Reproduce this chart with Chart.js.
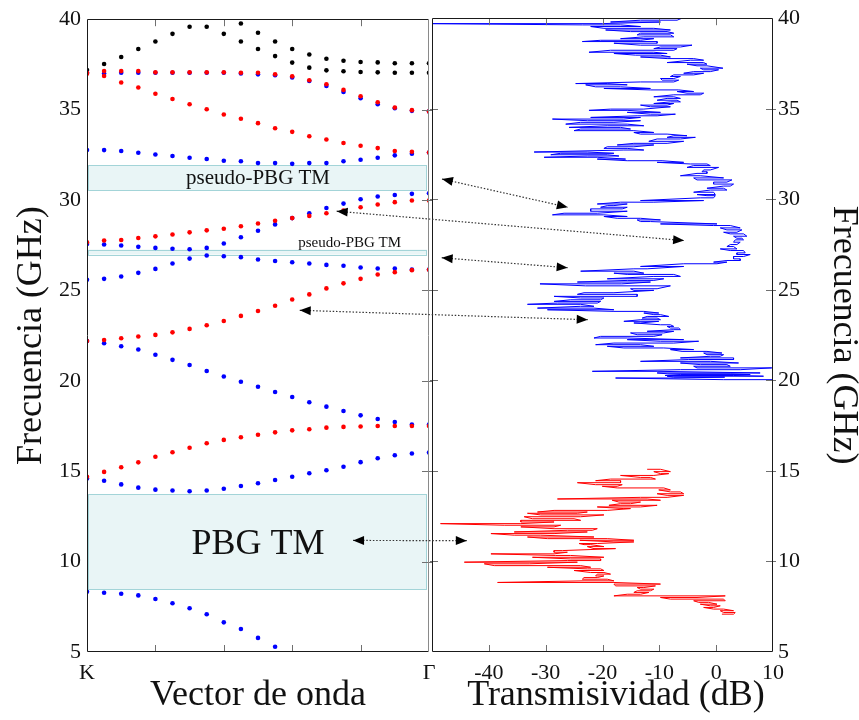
<!DOCTYPE html>
<html>
<head>
<meta charset="utf-8">
<script src="https://cdn.jsdelivr.net/npm/chart.js@4.4.0/dist/chart.umd.min.js"></script>
<style>
  html, body { margin: 0; padding: 0; background: #fff; }
  #wrap { position: relative; width: 859px; height: 720px; }
  #wrap canvas { position: absolute; left: 0; top: 0; }
</style>
</head>
<body>
<div id="wrap">
  <canvas id="bands" width="859" height="720"></canvas>
  <canvas id="trans" width="859" height="720"></canvas>
</div>
<script>
// k points from K (0) to Gamma (20)
const kIndex = [0,1,2,3,4,5,6,7,8,9,10,11,12,13,14,15,16,17,18,19,20];

// band diagram, frequency in GHz for each k point
const blueBands = [
  [37.04,36.99,37.04,37.04,37.04,37.04,37.04,37.04,37.04,37.0,36.95,36.9,36.78,36.58,36.31,35.98,35.63,35.3,35.08,34.93,34.9],
  [32.76,32.76,32.71,32.61,32.52,32.43,32.34,32.27,32.17,32.14,32.04,32.04,32.0,32.04,32.04,32.14,32.23,32.34,32.47,32.56,32.63],
  [27.56,27.54,27.48,27.41,27.35,27.3,27.28,27.35,27.59,27.94,28.3,28.65,29.0,29.27,29.56,29.8,30.04,30.19,30.28,30.34,30.37],
  [25.59,25.64,25.77,25.97,26.19,26.49,26.76,26.93,26.89,26.84,26.71,26.63,26.56,26.49,26.41,26.36,26.27,26.21,26.21,26.16,26.16],
  [22.2,22.08,21.91,21.73,21.44,21.16,20.87,20.54,20.24,19.95,19.67,19.38,19.1,18.81,18.57,18.33,18.09,17.89,17.72,17.58,17.58],
  [14.6,14.47,14.27,14.09,13.98,13.93,13.89,13.93,14.03,14.18,14.33,14.51,14.69,14.89,15.05,15.25,15.5,15.72,15.88,15.98,16.03],
  [8.33,8.28,8.22,8.13,7.93,7.7,7.42,7.09,6.64,6.27,5.78,5.29,null,null,null,null,null,null,null,null,null]
];
const redBands = [
  [37.04,37.13,37.13,37.13,37.06,37.06,37.06,37.06,37.06,37.04,37.04,36.95,36.84,36.62,36.4,36.09,35.74,35.41,35.11,34.97,34.9],
  [36.98,36.86,36.5,36.22,35.88,35.59,35.3,35.02,34.73,34.49,34.25,33.97,33.77,33.53,33.35,33.15,33.0,32.87,32.71,32.67,32.63],
  [27.66,27.76,27.79,27.9,27.99,28.09,28.21,28.32,28.41,28.55,28.7,28.85,29.0,29.12,29.27,29.42,29.6,29.75,29.88,29.97,29.97],
  [22.2,22.26,22.35,22.45,22.54,22.68,22.87,23.07,23.31,23.59,23.86,24.15,24.5,24.78,25.11,25.39,25.64,25.88,26.01,26.12,26.14],
  [14.69,14.96,15.22,15.49,15.8,16.05,16.3,16.55,16.73,16.88,17.02,17.15,17.26,17.32,17.41,17.45,17.47,17.5,17.5,17.5,17.5]
];
const blackBands = [
  [37.19,37.52,37.91,38.35,38.77,39.19,39.58,39.58,39.19,38.77,38.35,37.96,37.6,37.32,37.17,37.12,37.08,37.06,37.04,37.04,37.04],
  [null,null,null,null,null,null,null,null,null,39.76,39.25,38.77,38.35,38.05,37.81,37.7,37.63,37.61,37.56,37.56,37.56]
];

// measured transmission (20-40 GHz, blue): each row is a frequency with its low/high swing in dB
const blueFreq = [
  40.00,39.89,39.79,39.70,39.63,39.54,39.44,39.35,39.26,39.17,
  39.08,38.97,38.87,38.78,38.71,38.62,38.51,38.41,38.32,38.23,
  38.12,38.05,37.96,37.86,37.77,37.68,37.55,37.46,37.37,37.24,
  37.15,37.05,36.96,36.87,36.78,36.67,36.58,36.48,36.39,36.32,
  36.21,36.12,36.04,35.95,35.86,35.77,35.66,35.57,35.47,35.38,
  35.29,35.20,35.11,34.98,34.91,34.80,34.70,34.61,34.52,34.43,
  34.34,34.25,34.15,34.06,33.97,33.88,33.79,33.69,33.60,33.51,
  33.42,33.33,33.20,33.09,33.00,32.90,32.81,32.72,32.61,32.54,
  32.46,32.39,32.32,32.22,32.13,32.04,31.95,31.86,31.76,31.62,
  31.52,31.43,31.30,31.18,31.07,30.95,30.84,30.73,30.61,30.51,
  30.39,30.26,30.20,30.08,29.93,29.84,29.74,29.65,29.56,29.47,
  29.34,29.23,29.14,29.05,28.95,28.86,28.77,28.64,28.55,28.42,
  28.31,28.18,28.09,27.96,27.85,27.76,27.63,27.50,27.39,27.26,
  27.17,27.04,26.95,26.84,26.71,26.62,26.53,26.44,26.29,26.16,
  26.03,25.92,25.85,25.74,25.61,25.52,25.43,25.33,25.22,25.06,
  24.97,24.84,24.75,24.64,24.55,24.45,24.36,24.27,24.20,24.09,
  23.99,23.90,23.81,23.72,23.63,23.53,23.44,23.35,23.26,23.17,
  23.07,22.98,22.89,22.80,22.71,22.62,22.52,22.43,22.34,22.25,
  22.16,22.06,21.97,21.88,21.79,21.70,21.60,21.51,21.42,21.33,
  21.24,21.15,21.05,20.96,20.87,20.78,20.69,20.59,20.50,20.41,
  20.36,20.32,20.27,20.23,20.18,20.13,20.04
];
const blueLow = [
  -9.5,-13.31,-18.58,-50,-23.55,-22.08,-19.75,-19.45,-15.07,-13.31,
  -13.9,-12.73,-16.82,-20.33,-23.55,-17.99,-13.31,-9.8,-10.97,-18.58,
  -22.38,-17.99,-14.19,-13.31,-8.63,-4.54,-8.63,-5.13,-3.37,-2.79,
  -2.2,-3.96,-5.71,-7.46,-8.05,-9.8,-9.51,-13.31,-24.72,-22.96,
  -21.21,-19.75,-11.56,-6.88,-5.13,-7.46,-10.97,-8.63,-10.39,-8.05,
  -10.97,-13.31,-11.56,-18.58,-22.38,-15.65,-11.56,-13.9,-22.08,-28.81,
  -22.67,-23.84,-26.47,-19.16,-25.89,-23.84,-25.01,-14.48,-13.31,-7.46,
  -8.63,-10.39,-11.85,-14.48,-17.41,-19.16,-19.75,-16.24,-32.03,-27.35,
  -29.1,-22.67,-30.27,-20.92,-15.65,-10.39,-4.54,-3.96,-5.13,-2.2,
  -2.49,-3.37,-6.29,-3.96,-3.37,-0.45,-0.45,1.31,-1.62,-1.03,
  -3.96,-3.37,-1.62,-2.79,-13.31,-16.82,-20.92,-19.16,-20.33,-22.08,
  -22.08,-26.76,-28.81,-19.75,-17.41,-13.9,-13.31,-9.8,-0.45,0.72,
  1.89,1.31,2.48,3.06,3.65,3.36,3.06,2.48,1.89,0.72,
  2.48,3.65,3.65,3.06,3.06,1.89,-0.45,-5.71,-13.31,-14.48,
  -23.84,-17.99,-15.65,-10.97,-19.16,-15.65,-24.42,-31.0,-23.0,-15.07,
  -14.48,-23.25,-24.42,-28.52,-23.84,-25.6,-28.52,-27.93,-33.2,-23.84,
  -31.44,-29.69,-17.99,-12.73,-10.97,-12.14,-13.02,-13.31,-16.24,-14.48,
  -9.8,-8.63,-8.05,-7.46,-12.14,-15.07,-13.9,-20.33,-21.5,-15.65,
  -9.8,-17.99,-21.21,-19.16,-16.24,-8.05,-6.0,-2.2,-1.62,-1.03,
  -6.29,-4.83,-13.31,-6.29,-2.79,-3.96,-3.37,-6.29,-21.79,-10.39,
  -8.5,-6.29,-9.0,-8.63,-7.5,-17.7,1.26
];
const blueHigh = [
  -6.0,-6.88,-9.8,-20.04,-16.82,-13.31,-10.97,-8.05,-8.63,-7.46,
  -8.05,-7.46,-10.97,-13.31,-10.39,-10.39,-4.25,-6.29,-6.88,-7.46,
  -10.97,-8.63,-9.8,-8.05,-3.96,-2.2,-2.2,-1.62,-1.62,1.19,
  0.43,-1.03,-2.2,-3.96,-6.29,-7.46,-6.59,-7.46,-19.16,-15.65,
  -16.82,-11.56,-6.59,-3.96,-2.2,-2.79,-7.46,-6.29,-6.88,-6.29,
  -7.46,-8.63,-8.05,-12.73,-15.65,-9.8,-7.17,-10.39,-13.31,-16.24,
  -13.31,-17.99,-15.65,-12.73,-16.82,-15.07,-14.48,-10.97,-8.63,-5.13,
  -3.66,-6.29,-5.71,-8.63,-10.97,-14.48,-15.65,-12.73,-22.67,-17.99,
  -19.16,-17.11,-20.92,-15.94,-9.51,-5.71,-1.62,-1.03,0.43,-1.03,
  -1.62,-1.62,-2.79,1.31,2.77,1.89,3.06,2.48,1.31,1.89,
  -0.45,-0.15,-0.15,-0.45,-2.2,-10.97,-15.65,-17.99,-15.65,-16.53,
  -15.65,-20.92,-19.75,-15.65,-13.31,-9.8,-11.56,0.14,2.48,4.23,
  4.53,3.65,4.82,5.4,4.53,4.82,4.23,3.65,3.06,3.65,
  4.82,5.11,5.99,4.82,4.23,4.23,1.89,0.14,-5.71,-12.14,
  -14.48,-12.73,-7.46,-6.29,-9.22,-10.97,-11.56,-16.6,-8.05,-10.39,
  -10.97,-17.99,-13.9,-13.9,-19.75,-20.33,-20.33,-20.92,-23.84,-21.5,
  -21.5,-17.99,-12.73,-10.1,-9.8,-8.34,-10.39,-9.8,-10.1,-13.31,
  -8.05,-7.46,-6.59,-6.29,-7.46,-9.22,-9.51,-10.97,-15.65,-5.71,
  -3.08,-7.46,-13.31,-10.97,-9.22,-3.96,-1.62,1.01,1.31,0.72,
  3.06,3.06,-1.03,3.94,1.89,2.48,9.79,4.23,-10.39,7.74,
  2.5,5.99,3.0,8.33,1.5,-7.46,10.0
];

// measured transmission (7-15 GHz, red)
const redFreq = [
  15.09,14.96,14.85,14.75,14.64,14.55,14.46,14.35,14.24,14.15,
  14.06,13.95,13.84,13.74,13.65,13.54,13.45,13.38,13.28,13.19,
  13.10,13.01,12.92,12.82,12.73,12.66,12.57,12.47,12.36,12.27,
  12.18,12.09,12.00,11.91,11.81,11.72,11.63,11.54,11.45,11.35,
  11.26,11.17,11.08,10.99,10.93,10.82,10.71,10.60,10.51,10.42,
  10.33,10.23,10.14,10.05,9.96,9.87,9.77,9.68,9.59,9.50,
  9.39,9.30,9.20,9.11,9.02,8.93,8.84,8.75,8.65,8.56,
  8.47,8.38,8.29,8.19,8.10,8.01,7.92,7.83,7.74,7.64,
  7.55,7.46,7.37,7.28,7.18,7.09
];
const redLow = [
  -12.14,-10.97,-9.8,-16.82,-13.31,-18.58,-21.21,-24.42,-21.21,-20.04,
  -17.41,-10.1,-8.05,-10.39,-8.63,-13.31,-27.93,-18.29,-17.11,-16.82,
  -18.87,-20.92,-16.24,-28.52,-31.44,-33.2,-30.86,-33.78,-32.32,-34.37,
  -34.37,-48.5,-37.29,-34.37,-28.52,-26.18,-35.53,-39.63,-35.53,-33.2,
  -29.69,-24.0,-17.99,-24.13,-23.25,-22.67,-21.5,-28.52,-28.52,-39.63,
  -28.23,-32.32,-25.6,-26.18,-44.31,-40.8,-39.04,-29.69,-22.67,-25.01,
  -22.08,-20.92,-21.21,-23.25,-23.55,-23.25,-38.46,-17.99,-17.7,-13.9,
  -13.31,-13.9,-14.48,-15.65,-17.99,-9.8,-8.05,-3.96,-3.08,-2.79,
  -1.03,-2.2,-0.45,0.72,1.31,1.01
];
const redHigh = [
  -9.8,-8.05,-8.34,-10.97,-11.56,-10.68,-16.82,-16.82,-16.53,-17.41,
  -9.22,-8.05,-6.29,-5.71,-5.71,-8.63,-12.14,-9.8,-13.31,-15.07,
  -10.39,-13.31,-15.07,-19.16,-22.67,-24.42,-19.75,-23.84,-25.01,-23.84,
  -28.52,-34.37,-27.35,-28.52,-20.92,-21.79,-22.67,-28.52,-30.86,-21.5,
  -19.16,-14.48,-14.48,-20.92,-22.08,-19.75,-17.7,-27.05,-26.18,-28.52,
  -25.6,-19.75,-20.33,-20.33,-24.42,-32.9,-23.84,-22.08,-20.33,-19.75,
  -19.75,-18.58,-19.75,-20.92,-19.16,-17.99,-17.99,-9.8,-10.68,-12.73,
  -10.97,-11.56,-11.85,-13.31,1.6,-3.37,1.31,1.6,-1.32,0.14,
  0.72,-0.45,1.31,3.06,3.36,3.06
];

// shaded gaps on the band diagram (GHz)
const gapTop = [31.92, 27.26, 13.72];
const gapBottom = [30.52, 26.98, 8.44];

const serif = "'Liberation Serif', 'Times New Roman', serif";

function bandPoints(vals) {
  const out = [];
  vals.forEach((v, i) => { if (v !== null) out.push({x: kIndex[i], y: v}); });
  return out;
}

function zigzag(freq, lo, hi) {
  const pts = [];
  freq.forEach((f, i) => {
    if (i % 2 === 0) pts.push({x: lo[i], y: f}, {x: hi[i], y: f});
    else pts.push({x: hi[i], y: f}, {x: lo[i], y: f});
  });
  return pts;
}

// box and inward tick marks
const framePlugin = {
  id: 'frame',
  afterDraw(chart, args, opts) {
    const {ctx, chartArea: a, scales} = chart;
    const xs = scales.x, ys = scales.y;
    const len = 7;
    ctx.save();
    ctx.lineWidth = 1;
    ctx.strokeStyle = '#707070';
    ctx.beginPath();
    xs.ticks.forEach(t => {
      if (t.value <= xs.min || t.value >= xs.max) return;
      const px = Math.round(xs.getPixelForValue(t.value)) + 0.5;
      ctx.moveTo(px, a.bottom); ctx.lineTo(px, a.bottom - len);
      ctx.moveTo(px, a.top); ctx.lineTo(px, a.top + len);
    });
    ys.ticks.forEach(t => {
      if (t.value <= ys.min || t.value >= ys.max) return;
      const py = Math.round(ys.getPixelForValue(t.value)) + 0.5;
      if (opts.leftTicks) { ctx.moveTo(a.left - 2, py); ctx.lineTo(a.left + len - 1, py); }
      if (opts.rightTicks) { ctx.moveTo(a.right - len, py); ctx.lineTo(a.right + 3, py); }
    });
    ctx.stroke();

    const l = Math.round(a.left) + 0.5, r = Math.round(a.right) - 0.5;
    const t = Math.round(a.top) + 0.5, b = Math.round(a.bottom) - 0.5;
    ctx.strokeStyle = '#1a1a1a';
    ctx.beginPath();
    ctx.moveTo(r, t); ctx.lineTo(l, t); ctx.lineTo(l, b); ctx.lineTo(r, b);
    ctx.stroke();
    ctx.strokeStyle = opts.rightColor || '#1a1a1a';
    ctx.beginPath(); ctx.moveTo(r, t); ctx.lineTo(r, b); ctx.stroke();
    ctx.restore();
  }
};

// shaded band gaps with their labels
const gapPlugin = {
  id: 'gaps',
  beforeDatasetsDraw(chart) {
    const {ctx, chartArea: a, scales} = chart;
    const ys = scales.y, xs = scales.x;
    ctx.save();
    gapTop.forEach((top, i) => {
      const y0 = ys.getPixelForValue(top), y1 = ys.getPixelForValue(gapBottom[i]);
      ctx.fillStyle = '#e9f5f6';
      ctx.fillRect(a.left + 1, y0, a.width - 3, y1 - y0);
      ctx.strokeStyle = '#a3d4d8';
      ctx.lineWidth = 1;
      ctx.strokeRect(a.left + 1.5, Math.round(y0) + 0.5, a.width - 4, Math.round(y1 - y0));
    });
    ctx.fillStyle = '#111';
    ctx.textAlign = 'center';
    ctx.textBaseline = 'middle';
    const cx = (a.left + a.right) / 2;
    ctx.font = '21px ' + serif;
    ctx.fillText('pseudo-PBG TM', cx, ys.getPixelForValue((gapTop[0] + gapBottom[0]) / 2) + 1);
    ctx.font = '15px ' + serif;
    ctx.fillText('pseudo-PBG TM', xs.getPixelForValue(15.36), ys.getPixelForValue(27.63));
    ctx.font = '36px ' + serif;
    ctx.fillText('PBG TM', cx, ys.getPixelForValue((gapTop[2] + gapBottom[2]) / 2) + 2);
    ctx.restore();
  }
};

const tickFont = {family: serif, size: 22};
const titleFont = {family: serif, size: 36, lineHeight: 1};

const bandDatasets = [];
redBands.forEach(b => bandDatasets.push({data: bandPoints(b), backgroundColor: '#ff0000'}));
blueBands.forEach(b => bandDatasets.push({data: bandPoints(b), backgroundColor: '#0000ff'}));
blackBands.forEach(b => bandDatasets.push({data: bandPoints(b), backgroundColor: '#000000'}));
bandDatasets.forEach(d => { d.pointRadius = 2.3; d.borderWidth = 0; d.pointStyle = 'circle'; });

const bandChart = new Chart(document.getElementById('bands'), {
  type: 'scatter',
  data: { datasets: bandDatasets },
  options: {
    responsive: false,
    animation: false,
    devicePixelRatio: 1,
    layout: { padding: { top: 17, right: 430, bottom: 0, left: 0 } },
    plugins: {
      legend: { display: false },
      tooltip: { enabled: false },
      frame: { leftTicks: false, rightTicks: true, rightColor: '#8a8a8a' }
    },
    scales: {
      x: {
        type: 'linear', min: 0, max: 20,
        grid: { display: false, drawTicks: false },
        border: { display: false },
        ticks: {
          stepSize: 4, autoSkip: false, maxRotation: 0, padding: 8, color: '#111', font: tickFont,
          callback: v => v === 0 ? 'K' : (v === 20 ? 'Γ' : '')
        },
        title: { display: true, text: 'Vector de onda', color: '#111', font: titleFont, padding: { top: 0, bottom: 6 } },
        afterFit: s => { s.height = 68; }
      },
      y: {
        min: 5, max: 40,
        grid: { display: false, drawTicks: false },
        border: { display: false },
        ticks: { stepSize: 5, padding: 6, color: '#111', font: tickFont },
        title: { display: true, text: 'Frecuencia (GHz)', color: '#111', font: titleFont, padding: { top: 14, bottom: 0 } },
        afterFit: s => { s.width = 87; }
      }
    }
  },
  plugins: [gapPlugin, framePlugin]
});

// dotted double arrows linking gaps to the measurement
const arrows = [
  { from: ['R', -48.25, 31.12], to: ['R', -26.1, 29.56] },
  { from: ['L', 14.6, 29.38], to: ['R', -5.64, 27.72] },
  { from: ['R', -48.3, 26.77], to: ['R', -26.13, 26.22] },
  { from: ['L', 12.44, 23.9], to: ['R', -22.6, 23.35] },
  { from: ['L', 15.56, 11.17], to: ['R', -43.87, 11.15] }
];

function head(ctx, x0, y0, x1, y1) {
  const ang = Math.atan2(y1 - y0, x1 - x0), L = 11, W = 4.5;
  const c = Math.cos(ang), s = Math.sin(ang);
  ctx.beginPath();
  ctx.moveTo(x1, y1);
  ctx.lineTo(x1 - L * c + W * s, y1 - L * s - W * c);
  ctx.lineTo(x1 - L * c - W * s, y1 - L * s + W * c);
  ctx.closePath();
  ctx.fill();
}

const arrowPlugin = {
  id: 'arrows',
  afterDraw(chart) {
    const ctx = chart.ctx;
    const px = p => {
      const c = p[0] === 'L' ? bandChart : chart;
      return [c.scales.x.getPixelForValue(p[1]), c.scales.y.getPixelForValue(p[2])];
    };
    ctx.save();
    arrows.forEach(a => {
      const [x0, y0] = px(a.from), [x1, y1] = px(a.to);
      ctx.strokeStyle = '#333';
      ctx.lineWidth = 1.2;
      ctx.setLineDash([1.5, 1.8]);
      ctx.beginPath(); ctx.moveTo(x0, y0); ctx.lineTo(x1, y1); ctx.stroke();
      ctx.setLineDash([]);
      ctx.fillStyle = '#000';
      head(ctx, x0, y0, x1, y1);
      head(ctx, x1, y1, x0, y0);
    });
    ctx.restore();
  }
};

new Chart(document.getElementById('trans'), {
  type: 'scatter',
  data: {
    datasets: [
      { data: zigzag(blueFreq, blueLow, blueHigh), showLine: true, borderColor: '#0000ff', borderWidth: 1, pointRadius: 0, tension: 0 },
      { data: zigzag(redFreq, redLow, redHigh), showLine: true, borderColor: '#ff0000', borderWidth: 1, pointRadius: 0, tension: 0 }
    ]
  },
  options: {
    responsive: false,
    animation: false,
    devicePixelRatio: 1,
    layout: { padding: { top: 17, right: 0, bottom: 0, left: 432 } },
    plugins: {
      legend: { display: false },
      tooltip: { enabled: false },
      frame: { leftTicks: true, rightTicks: true }
    },
    scales: {
      x: {
        type: 'linear', min: -50, max: 10,
        grid: { display: false, drawTicks: false },
        border: { display: false },
        ticks: { stepSize: 10, autoSkip: false, maxRotation: 0, padding: 8, color: '#111', font: tickFont,
          callback: v => v === -50 ? '' : String(v) },
        title: { display: true, text: '   Transmisividad (dB)', color: '#111', font: titleFont, padding: { top: 0, bottom: 6 } },
        afterFit: s => { s.height = 68; }
      },
      y: {
        position: 'right',
        min: 5, max: 40,
        grid: { display: false, drawTicks: false },
        border: { display: false },
        ticks: { stepSize: 5, padding: 5, color: '#111', font: tickFont },
        title: { display: true, text: 'Frecuencia (GHz)', color: '#111', font: { family: serif, size: 36, lineHeight: 0.8 }, padding: { top: 1, bottom: 0 } },
        afterFit: s => { s.width = 86; }
      }
    }
  },
  plugins: [framePlugin, arrowPlugin]
});
</script>
</body>
</html>
